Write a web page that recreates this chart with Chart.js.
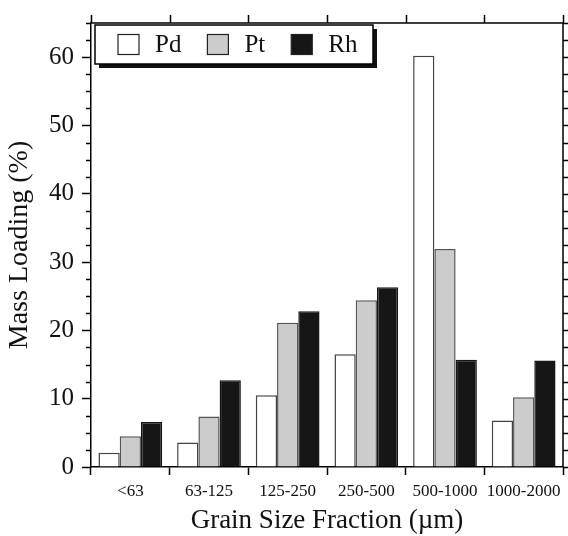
<!DOCTYPE html>
<html>
<head>
<meta charset="utf-8">
<script src="https://cdn.jsdelivr.net/npm/chart.js@4.4.1/dist/chart.umd.min.js"></script>
<style>
  body { margin: 0; background: #fff; }
  #wrap { width: 568px; height: 536px; position: relative; }
</style>
</head>
<body>
<div id="wrap"><canvas id="chart"></canvas></div>
<script>
// ===== data =====
const categories = ['<63', '63-125', '125-250', '250-500', '500-1000', '1000-2000'];
const pdValues = [2.1, 3.6, 10.5, 16.5, 60.2, 6.8];
const ptValues = [4.5, 7.4, 21.1, 24.4, 31.9, 10.2];
const rhValues = [6.6, 12.7, 22.8, 26.3, 15.7, 15.6];
const yTicks = [0, 10, 20, 30, 40, 50, 60];

const SERIF = '"Liberation Serif", "DejaVu Serif", serif';

// frame, minor ticks and boxed legend
const framePlugin = {
  id: 'frame',
  afterDraw(chart) {
    const ctx = chart.ctx;
    const area = chart.chartArea;
    const x = chart.scales.x;
    const y = chart.scales.y;
    ctx.save();
    ctx.strokeStyle = '#000';
    ctx.lineWidth = 1.5;

    // top + right border
    ctx.beginPath();
    ctx.moveTo(area.left, area.top);
    ctx.lineTo(area.right, area.top);
    ctx.lineTo(area.right, area.bottom);
    ctx.stroke();

    // minor ticks left (every 2.5), ticks right
    ctx.beginPath();
    for (let v = 0; v <= y.max + 0.001; v += 2.5) {
      const py = Math.round(y.getPixelForValue(v)) + 0.5;
      if (v % 10 !== 0) {
        ctx.moveTo(area.left - 5, py);
        ctx.lineTo(area.left, py);
      }
      ctx.moveTo(area.right, py);
      ctx.lineTo(area.right + 6, py);
    }
    // top ticks at category boundaries
    const w = x.getPixelForValue(1) - x.getPixelForValue(0);
    for (let i = 0; i <= categories.length; i++) {
      const px = Math.round(x.getPixelForValue(i) - w / 2) + 0.5;
      ctx.moveTo(px, area.top);
      ctx.lineTo(px, area.top - 8);
    }
    ctx.stroke();

    // legend box
    const lx = 95, ly = 25, lw = 278, lh = 39;
    ctx.fillStyle = '#111';
    ctx.fillRect(lx + 4, ly + 4, lw, lh);
    ctx.fillStyle = '#fff';
    ctx.fillRect(lx, ly, lw, lh);
    ctx.strokeRect(lx, ly, lw, lh);

    ctx.font = '25px ' + SERIF;
    ctx.textBaseline = 'middle';
    let cx = lx + 23;
    const cy = ly + lh / 2;
    chart.data.datasets.forEach(ds => {
      ctx.fillStyle = ds.backgroundColor;
      ctx.fillRect(cx, cy - 10, 21, 20);
      ctx.lineWidth = 1.2;
      ctx.strokeStyle = '#222';
      ctx.strokeRect(cx, cy - 10, 21, 20);
      ctx.fillStyle = '#111';
      ctx.fillText(ds.label, cx + 37, cy + 1);
      cx += 37 + ctx.measureText(ds.label).width + 26;
    });
    ctx.restore();
  }
};

new Chart(document.getElementById('chart'), {
  type: 'bar',
  data: {
    labels: categories,
    datasets: [
      { label: 'Pd', data: pdValues, backgroundColor: '#ffffff', borderColor: '#444', borderWidth: 1.5 },
      { label: 'Pt', data: ptValues, backgroundColor: '#cccccc', borderColor: '#555', borderWidth: 1.5 },
      { label: 'Rh', data: rhValues, backgroundColor: '#161616', borderColor: '#161616', borderWidth: 1.5 }
    ]
  },
  options: {
    responsive: true,
    maintainAspectRatio: false,
    animation: false,
    layout: { padding: { top: 18, right: 5, left: 0, bottom: 0 } },
    datasets: {
      bar: { categoryPercentage: 0.81, barPercentage: 1.0 }
    },
    scales: {
      x: {
        afterFit: s => { s.height = 69; },
        grid: { drawOnChartArea: false, drawTicks: true, tickLength: 8, tickColor: '#000', tickWidth: 1.5, offset: true },
        border: { display: true, color: '#000', width: 1.5 },
        ticks: { color: '#111', font: { family: SERIF, size: 17 }, padding: 6, maxRotation: 0, autoSkip: false },
        title: { display: true, text: 'Grain Size Fraction (µm)', color: '#111', font: { family: SERIF, size: 27 }, padding: { top: 0, bottom: -1 } }
      },
      y: {
        min: 0,
        max: 65,
        afterFit: s => { s.width = 91; },
        afterBuildTicks: s => { s.ticks = yTicks.map(v => ({ value: v })); },
        grid: { drawOnChartArea: false, drawTicks: true, tickLength: 9, tickColor: '#000', tickWidth: 1.5 },
        border: { display: true, color: '#000', width: 1.5 },
        ticks: { color: '#111', font: { family: SERIF, size: 25 }, padding: 8 },
        title: { display: true, text: 'Mass Loading (%)', color: '#111', font: { family: SERIF, size: 28 }, padding: { top: 3, bottom: 0 } }
      }
    },
    plugins: {
      legend: { display: false },
      tooltip: { enabled: false }
    }
  },
  plugins: [framePlugin]
});
</script>
</body>
</html>
